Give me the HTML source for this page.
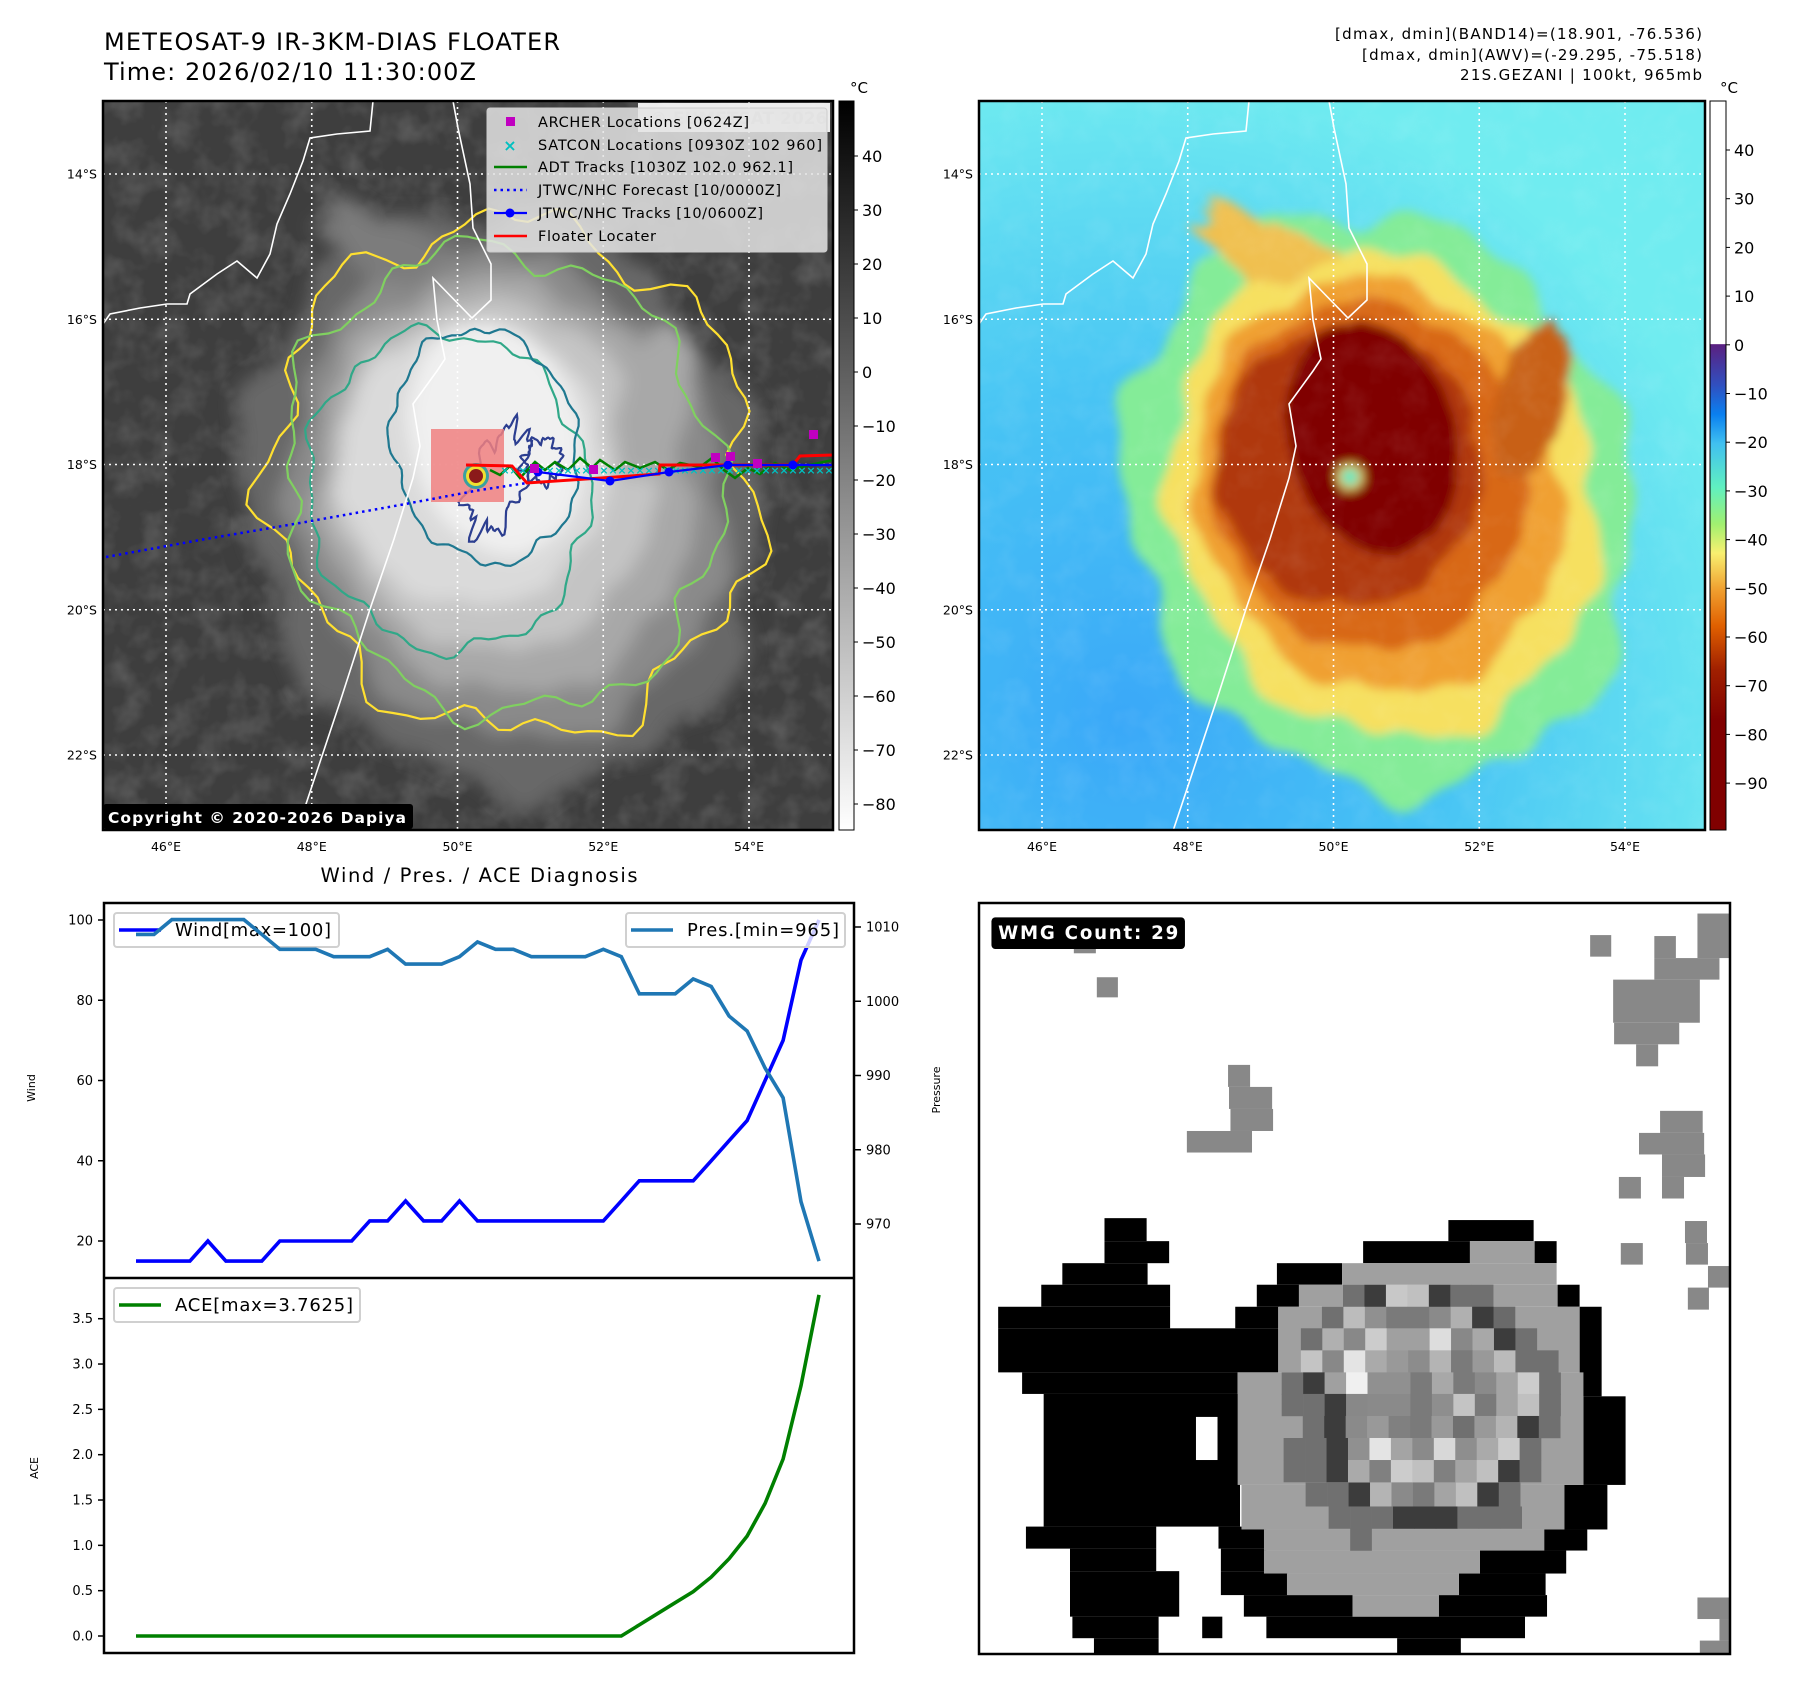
<!DOCTYPE html>
<html><head><meta charset="utf-8">
<style>
html,body{margin:0;padding:0;background:#fff;}
svg{display:block;font-family:"DejaVu Sans","Liberation Sans",sans-serif;}
</style></head>
<body>
<svg id="fig" xmlns="http://www.w3.org/2000/svg" width="1797" height="1690" viewBox="0 0 1797 1690">
<defs>
  <filter id="blur" x="-20%" y="-20%" width="140%" height="140%"><feGaussianBlur stdDeviation="9"/></filter>
  <filter id="blur2" x="-20%" y="-20%" width="140%" height="140%"><feGaussianBlur stdDeviation="5"/></filter>
  <filter id="noise" x="0" y="0" width="100%" height="100%">
    <feTurbulence type="fractalNoise" baseFrequency="0.035" numOctaves="3" seed="4"/>
    <feColorMatrix type="matrix" values="0 0 0 0 1  0 0 0 0 1  0 0 0 0 1  1.2 0 0 0 -0.5"/>
  </filter>
  <clipPath id="clipL"><rect x="103" y="101" width="730" height="729"/></clipPath>
  <clipPath id="clipR"><rect x="979" y="101" width="726" height="729"/></clipPath>
  <linearGradient id="cbL" x1="0" y1="0" x2="0" y2="1">
    <stop offset="0" stop-color="#000"/><stop offset="1" stop-color="#fff"/>
  </linearGradient>
  <linearGradient id="cbR" x1="0" y1="0" x2="0" y2="1">
    <stop offset="0" stop-color="#ffffff"/><stop offset="0.333" stop-color="#ffffff"/>
    <stop offset="0.334" stop-color="#5a2080"/><stop offset="0.39" stop-color="#3050c0"/>
    <stop offset="0.43" stop-color="#0a80f0"/><stop offset="0.47" stop-color="#40c0f0"/>
    <stop offset="0.53" stop-color="#60f0c0"/><stop offset="0.58" stop-color="#a0f070"/>
    <stop offset="0.62" stop-color="#f8f070"/><stop offset="0.67" stop-color="#f0a030"/>
    <stop offset="0.72" stop-color="#e06000"/><stop offset="0.78" stop-color="#a02000"/>
    <stop offset="0.85" stop-color="#800000"/><stop offset="1" stop-color="#800000"/>
  </linearGradient>
  <radialGradient id="bgR" cx="0.2" cy="0.85" r="0.9">
    <stop offset="0" stop-color="#3aa8f8"/><stop offset="0.5" stop-color="#48c4f4"/><stop offset="1" stop-color="#70ecf0"/>
  </radialGradient>
</defs>

<!-- Titles -->
<text x="104" y="50" font-size="24" textLength="456">METEOSAT-9 IR-3KM-DIAS FLOATER</text>
<text x="104" y="80" font-size="24" textLength="372">Time: 2026/02/10 11:30:00Z</text>
<g font-size="15" text-anchor="end">
  <text x="1702" y="39" textLength="367">[dmax, dmin](BAND14)=(18.901, -76.536)</text>
  <text x="1702" y="60" textLength="340">[dmax, dmin](AWV)=(-29.295, -75.518)</text>
  <text x="1702" y="80" textLength="242">21S.GEZANI | 100kt, 965mb</text>
</g>

<!-- LEFT MAP -->
<g id="mapL" clip-path="url(#clipL)">
  <rect x="103" y="101" width="730" height="729" fill="#3e3e3e"/>
  <rect x="103" y="101" width="730" height="729" filter="url(#noise)" opacity="0.25"/>
  <g id="cloudL" filter="url(#blur)"></g>
  <g id="contoursL" fill="none" stroke-width="2.2"></g>
</g>
<!-- RIGHT MAP -->
<g id="mapR" clip-path="url(#clipR)">
  <rect x="979" y="101" width="726" height="729" fill="url(#bgR)"/>
  <g id="cloudR" filter="url(#blur2)"></g>
  <rect x="979" y="101" width="726" height="729" filter="url(#noise)" opacity="0.12"/>
</g>
<g id="coastL" fill="none" stroke="#fff" stroke-width="1.6"></g>
<g id="gridL" stroke="#fff" stroke-width="1.6" stroke-dasharray="2,4"></g>

<!-- tracks on left map -->
<g clip-path="url(#clipL)">
  <rect x="431" y="429" width="73" height="73" fill="#f08080" opacity="0.85"/>
  <circle cx="476" cy="476" r="13" fill="#3aa0a0"/><circle cx="476" cy="476" r="10" fill="#f0e030"/><circle cx="476" cy="476" r="7" fill="#8b1a1a"/>
  <polyline points="106,557 200,540 300,523 400,505 480,490 527,483" fill="none" stroke="#0000ff" stroke-width="2.5" stroke-dasharray="2.5,4"/>
  <polyline points="800,465 833,465" fill="none" stroke="#0000ff" stroke-width="2.5" stroke-dasharray="2.5,4"/>
  <polyline points="490,470 500,475 510,466 520,478 535,462 545,470 555,462 568,470 580,458 592,468 600,460 615,470 625,462 640,468 655,462 668,470 680,463 700,467 712,458 724,470 735,478 748,468 760,474 775,463 790,470 805,466 833,460" fill="none" stroke="#008000" stroke-width="2.5"/>
  <g id="satcon" fill="#00c0c0" font-size="11" font-weight="bold" text-anchor="middle"></g>
  <polyline points="466,465 512,466 527,483 659,474 660,465 793,465 800,456 833,455" fill="none" stroke="#ff0000" stroke-width="3"/>
  <polyline points="538,472 610,481 669,472 728,465 793,465 833,465" fill="none" stroke="#0000ff" stroke-width="2.2"/>
  <g fill="#0000ff"><circle cx="538" cy="472" r="4.5"/><circle cx="610" cy="481" r="4.5"/><circle cx="669" cy="472" r="4.5"/><circle cx="728" cy="465" r="4.5"/><circle cx="793" cy="465" r="4.5"/></g>
  <g fill="#c000c0">
    <rect x="530" y="464" width="9" height="9"/><rect x="589" y="465" width="9" height="9"/><rect x="711" y="453" width="9" height="9"/><rect x="726" y="452" width="9" height="9"/><rect x="753" y="459" width="9" height="9"/><rect x="809" y="430" width="9" height="9"/>
  </g>
  <rect x="638" y="103" width="192" height="29" fill="#fff" opacity="0.9"/>
  <text x="650" y="124" font-size="17" font-weight="bold" fill="#d8d8d8">© EUMETSAT 2026</text>
</g>
<rect x="103" y="101" width="730" height="729" fill="none" stroke="#000" stroke-width="2.5"/>
<rect x="979" y="101" width="726" height="729" fill="none" stroke="#000" stroke-width="2.5"/>

<!-- map legend -->
<g>
  <rect x="487" y="108" width="340" height="144" rx="3" fill="#e4e4e4" fill-opacity="0.85" stroke="#ccc"/>
  <g font-size="14.5">
    <rect x="506" y="117" width="9" height="9" fill="#c000c0"/>
    <text x="538" y="127" textLength="211">ARCHER Locations [0624Z]</text>
    <text x="510" y="151" fill="#00c0c0" font-weight="bold" font-size="16" text-anchor="middle">×</text>
    <text x="538" y="150" textLength="284">SATCON Locations [0930Z 102 960]</text>
    <line x1="494" y1="167" x2="527" y2="167" stroke="#008000" stroke-width="2.5"/>
    <text x="538" y="172" textLength="255">ADT Tracks [1030Z 102.0 962.1]</text>
    <line x1="494" y1="190" x2="527" y2="190" stroke="#0000ff" stroke-width="2.5" stroke-dasharray="2.5,4"/>
    <text x="538" y="195" textLength="243">JTWC/NHC Forecast [10/0000Z]</text>
    <line x1="494" y1="213" x2="527" y2="213" stroke="#0000ff" stroke-width="2.2"/><circle cx="510" cy="213" r="4.5" fill="#0000ff"/>
    <text x="538" y="218" textLength="225">JTWC/NHC Tracks [10/0600Z]</text>
    <line x1="494" y1="236" x2="527" y2="236" stroke="#ff0000" stroke-width="2.5"/>
    <text x="538" y="241" textLength="118">Floater Locater</text>
  </g>
</g>
<g>
  <rect x="103" y="804" width="310" height="25" rx="3" fill="#000"/>
  <text x="108" y="823" font-size="15.5" font-weight="bold" fill="#fff" textLength="298">Copyright © 2020-2026 Dapiya</text>
</g>
<g id="mapLabels" font-size="12.5"></g>

<!-- colorbars -->
<rect x="839" y="101" width="15" height="729" fill="url(#cbL)" stroke="#000" stroke-width="1"/>
<rect x="1710" y="101" width="16" height="729" fill="url(#cbR)" stroke="#000" stroke-width="1"/>
<text x="850" y="93" font-size="15">°C</text>
<text x="1720" y="93" font-size="15">°C</text>
<g id="cbLabels" font-size="16"></g>

<!-- DIAGNOSIS CHART -->
<text x="479" y="882" font-size="19.5" text-anchor="middle" textLength="317">Wind / Pres. / ACE Diagnosis</text>
<g id="chart"></g>

<!-- WMG panel -->
<g id="wmg"></g>
</svg>
<script>
// ---------- chart data ----------
const obsIndex = [0,1,2,3,4,5,6,7,8,9,10,11,12,13,14,15,16,17,18,19,20,21,22,23,24,25,26,27,28,29,30,31,32,33,34,35,36,37,38];
const windKt = [15,15,15,15,20,15,15,15,20,20,20,20,20,25,25,30,25,25,30,25,25,25,25,25,25,25,25,30,35,35,35,35,40,45,50,60,70,90,100];
const presMb = [1009,1009,1011,1011,1011,1011,1011,1009,1007,1007,1007,1006,1006,1006,1007,1005,1005,1005,1006,1008,1007,1007,1006,1006,1006,1006,1007,1006,1001,1001,1001,1003,1002,998,996,991,987,973,965];
const aceVal = [0,0,0,0,0,0,0,0,0,0,0,0,0,0,0,0,0,0,0,0,0,0,0,0,0,0,0,0,0.1225,0.245,0.3675,0.49,0.65,0.8525,1.1025,1.4625,1.9525,2.7625,3.7625];
const windTicks = [20,40,60,80,100];
const presTicks = [970,980,990,1000,1010];
const aceTicks = [0,0.5,1,1.5,2,2.5,3,3.5];
const aceTickLabels = ["0.0","0.5","1.0","1.5","2.0","2.5","3.0","3.5"];

const NS='http://www.w3.org/2000/svg';
function mk(tag, attrs, parent){const e=document.createElementNS(NS,tag);for(const k in attrs)e.setAttribute(k,attrs[k]);if(parent)parent.appendChild(e);return e;}

const X0=104,X1=854,TOP=903,MID=1278,BOT=1653;
const xPos = i => 136 + (i - obsIndex[0]) * (819-136)/(obsIndex[obsIndex.length-1]-obsIndex[0]);
const yWind = w => 920 + (100 - w) * (1241-920)/80;
const yPres = p => 927 + (1010 - p) * (1224-927)/40;
const yAce = a => 1636 - a * (1636-1318.7)/3.5;

const chart=document.getElementById('chart');
function line(x1,y1,x2,y2,p,extra){return mk('line',Object.assign({x1,y1,x2,y2,stroke:'#000','stroke-width':1.5},extra||{}),p);}
windTicks.forEach(v=>{const y=yWind(v);line(X0-6,y,X0,y,chart);const t=mk('text',{x:X0-11,y:y+4.5,'font-size':13,'text-anchor':'end'},chart);t.textContent=v;

});
presTicks.forEach(v=>{const y=yPres(v);line(X1,y,X1+7,y,chart);const t=mk('text',{x:X1+12,y:y+4.5,'font-size':13},chart);t.textContent=v;

});
aceTicks.forEach((v,i)=>{const y=yAce(v);line(X0-6,y,X0,y,chart);const t=mk('text',{x:X0-11,y:y+4.5,'font-size':13,'text-anchor':'end'},chart);t.textContent=aceTickLabels[i];

});
let t;
t=mk('text',{x:0,y:0,'font-size':11,'text-anchor':'middle',transform:'translate(35,1088) rotate(-90)'},chart);t.textContent='Wind';


t=mk('text',{x:0,y:0,'font-size':11,'text-anchor':'middle',transform:'translate(940,1090) rotate(-90)'},chart);t.textContent='Pressure';


t=mk('text',{x:0,y:0,'font-size':11,'text-anchor':'middle',transform:'translate(38,1468) rotate(-90)'},chart);t.textContent='ACE';



function series(vals,yf,color,name){const pts=vals.map((v,i)=>xPos(obsIndex[i]).toFixed(1)+','+yf(v).toFixed(1)).join(' ');
const pl=mk('polyline',{points:pts,fill:'none',stroke:color,'stroke-width':3.6,'stroke-linejoin':'miter'},chart);

}
function legend(x,y,w,color,label,name,tl){const g=mk('g',{},chart);


mk('rect',{x,y,width:w,height:34,rx:3,fill:'#fff','fill-opacity':0.8,stroke:'#d0d0d0','stroke-width':2},g);
mk('line',{x1:x+5,y1:y+17,x2:x+47,y2:y+17,stroke:color,'stroke-width':3.6},g);
const tt=mk('text',{x:x+61,y:y+23,'font-size':18,textLength:tl},g);tt.textContent=label;}
series(windKt,yWind,'#0000ff','wind-line');
legend(114,913,225,'#0000ff','Wind[max=100]','wind-legend',156);
series(presMb,yPres,'#1f77b4','pressure-line');
legend(626,913,219,'#1f77b4','Pres.[min=965]','pressure-legend',152);
series(aceVal,yAce,'#008000','ace-line');
legend(114,1288,246,'#008000','ACE[max=3.7625]','ace-legend',178);
mk('rect',{x:X0,y:TOP,width:X1-X0,height:BOT-TOP,fill:'none',stroke:'#000','stroke-width':2.5},chart);
line(X0,MID,X1,MID,chart,{'stroke-width':2.5});

// ---------- map decorations ----------
function blob(cx,cy,rx,ry,rot,amp,seed){let d='';const n=120;const r=rot*Math.PI/180;
for(let k=0;k<=n;k++){const a=k/n*2*Math.PI;const f=1+amp*(Math.sin(7*a+seed)*0.5+Math.sin(13*a+seed*2.3)*0.3+Math.sin(23*a+seed*1.7)*0.2);
const px=rx*f*Math.cos(a),py=ry*f*Math.sin(a);const X=cx+px*Math.cos(r)-py*Math.sin(r),Y=cy+px*Math.sin(r)+py*Math.cos(r);
d+=(k?'L':'M')+X.toFixed(1)+','+Y.toFixed(1);}return d+'Z';}
const layers=[
 {c:[400,400],r:[255,295],rot:-20,a:0.08,g:'#686868',col:'#84ec98'},
 {c:[360,205],r:[170,40],rot:35,a:0.15,g:'#7c7c7c',col:'#f0c050'},
 {c:[405,395],r:[215,245],rot:-20,a:0.07,g:'#8a8a8a',col:'#f6e060'},
 {c:[400,385],r:[185,210],rot:-18,a:0.06,g:'#a8a8a8',col:'#f0a030'},
 {c:[390,375],r:[160,175],rot:-10,a:0.05,g:'#c4c4c4',col:'#d86818'},
 {c:[370,365],r:[135,140],rot:0,a:0.05,g:'#dadada',col:'#b03808'},
 {c:[552,300],r:[35,80],rot:15,a:0.08,g:'#a8a8a8',col:'#c86018'},
 {c:[393,337],r:[85,118],rot:-15,a:0.02,g:'#f0f0f0',col:'#800000'}
];
const cl=document.getElementById('cloudL'),cr=document.getElementById('cloudR');
layers.forEach((L,i)=>{
 mk('path',{d:blob(103+L.c[0],101+L.c[1],L.r[0],L.r[1],L.rot,L.a,i+1),fill:L.g},cl);
 mk('path',{d:blob(979+L.c[0],101+L.c[1],L.r[0]*0.98,L.r[1],L.rot,L.a,i+1),fill:L.col},cr);
});
mk('circle',{cx:979+371,cy:101+376,r:14,fill:'#f0c040'},cr);
mk('circle',{cx:979+371,cy:101+376,r:9,fill:'#60e8c0'},cr);
const cont=document.getElementById('contoursL');
[[410,376,240,258,-22,0.12,'#ffe030',3],[400,380,215,235,-22,0.10,'#80d060',5],[345,390,140,160,-10,0.08,'#30a888',7],[382,345,92,118,-12,0.07,'#1f7890',9],[395,380,25,55,20,0.35,'#2c3e90',2],[440,360,18,22,0,0.3,'#2c3e90',4]]
.forEach(c=>mk('path',{d:blob(103+c[0],101+c[1],c[2],c[3],c[4],c[5],c[7]),stroke:c[6]},cont));
// coastline
const coast=document.getElementById('coastL');
const coastPts=[[453,101],[458,128],[470,184],[473,228],[491,264],[491,300],[472,318],[433,278],[437,320],[445,359],[437,371],[413,404],[420,446],[413,478],[394,539],[370,609],[340,702],[297,831]];
const nwPts=[[373,101],[370,131],[337,134],[310,138],[303,161],[290,194],[277,224],[270,254],[257,278],[237,261],[217,274],[190,294],[187,304],[167,304],[140,308],[110,314],[103,324]];
[[0,101],[876,101]].forEach((o,k)=>{const dx=o[0];
 const clip=k?'url(#clipR)':'url(#clipL)';
 mk('polyline',{points:coastPts.map(p=>(p[0]+dx)+','+p[1]).join(' '),'clip-path':clip},coast);
 mk('polyline',{points:nwPts.map(p=>(p[0]+dx)+','+p[1]).join(' '),'clip-path':clip},coast);
});
// grid + labels
const lonTicks=[46,48,50,52,54], latTicks=[14,16,18,20,22];
const lonX=l=>166+(l-46)*(749-166)/8, latY=l=>174+(l-14)*(755-174)/8;
const grid=document.getElementById('gridL'),ml=document.getElementById('mapLabels');
[0,876].forEach(dx=>{
 const w = dx? 726:730;
 lonTicks.forEach(l=>{mk('line',{x1:lonX(l)+dx,y1:101,x2:lonX(l)+dx,y2:830},grid);
  const tx=mk('text',{x:lonX(l)+dx,y:851,'text-anchor':'middle'},ml);tx.textContent=l+'°E';
  
  });
 latTicks.forEach(l=>{mk('line',{x1:103+dx,y1:latY(l),x2:103+dx+w,y2:latY(l)},grid);
  const tx=mk('text',{x:97+dx,y:latY(l)+4.5,'text-anchor':'end'},ml);tx.textContent=l+'°S';
  
  });
});
const sc=document.getElementById('satcon');
for(let x=505;x<833;x+=9){const tt=mk('text',{x:x,y:470+((x*7)%9)-3},sc);tt.textContent='×';}
const cbg=document.getElementById('cbLabels');
[40,30,20,10,0,-10,-20,-30,-40,-50,-60,-70,-80].forEach(v=>{const y=156+(40-v)*5.4;line(854,y,858,y,cbg,{'stroke-width':1});
 const tx=mk('text',{x:862,y:y+6},cbg);tx.textContent=(v<0?'\u2212':'')+Math.abs(v);
 
 });
[40,30,20,10,0,-10,-20,-30,-40,-50,-60,-70,-80,-90].forEach(v=>{const y=150+(40-v)*4.87;line(1726,y,1730,y,cbg,{'stroke-width':1});
 const tx=mk('text',{x:1734,y:y+6},cbg);tx.textContent=(v<0?'\u2212':'')+Math.abs(v);
 
 });

// ---------- WMG panel ----------
const wmg=document.getElementById('wmg');
const wg=mk('g',{transform:'translate(979,903) scale('+(751/1568)+')'},wmg);
mk('rect',{x:0,y:0,width:1568,height:1568,fill:'#fff'},wg);
const grayBlocks=[[198,82,244,105],[246,155,290,197],[520,338,566,384],[522,384,612,430],[525,430,614,476],[434,476,570,521],[1276,67,1320,112],[1410,69,1455,115],[1500,22,1568,115],[1410,115,1546,160],[1324,160,1505,250],[1326,250,1462,295],[1372,295,1418,341],[1422,434,1511,480],[1378,480,1514,525],[1426,525,1516,572],[1336,572,1382,617],[1426,572,1472,617],[1474,664,1520,710],[1476,710,1522,755],[1340,710,1386,755],[1522,758,1568,803],[1480,803,1524,849],[1500,1450,1568,1495],[1546,1495,1568,1540],[1505,1540,1568,1568]];
grayBlocks.forEach(b=>mk('rect',{x:b[0],y:b[1],width:b[2]-b[0],height:b[3]-b[1],fill:'#888'},wg));
const blackBlocks=[[262,658,350,706],[262,706,397,752],[174,752,352,797],[130,797,399,843],[40,843,399,888],[40,888,625,980],[90,980,540,1025],[135,1025,545,1302],[98,1302,370,1348],[500,1302,600,1348],[190,1348,370,1395],[505,1348,600,1395],[190,1395,418,1490],[505,1395,645,1445],[553,1445,780,1490],[195,1490,375,1535],[466,1490,508,1535],[600,1490,1140,1535],[240,1535,375,1568],[873,1535,1006,1568],[535,843,625,888],[580,797,668,843],[622,752,758,797],[802,706,1025,752],[980,662,1158,706],[1160,706,1206,752],[1208,797,1254,843],[1254,843,1300,1030],[1262,1030,1350,1215],[1222,1215,1312,1308],[1180,1308,1270,1352],[1046,1352,1226,1400],[1002,1400,1183,1445],[960,1445,1186,1490]];
blackBlocks.forEach(b=>mk('rect',{x:b[0],y:b[1],width:b[2]-b[0],height:b[3]-b[1],fill:'#000'},wg));
mk('rect',{x:453,y:1073,width:45,height:90,fill:'#fff'},wg);
const ringBlocks=[[758,752,1206,797],[1025,706,1160,752],[668,797,1208,843],[626,843,1254,980],[540,980,1262,1215],[548,1215,1222,1308],[595,1308,1180,1352],[595,1352,1046,1400],[643,1400,1002,1445],[780,1445,960,1490]];
ringBlocks.forEach(b=>mk('rect',{x:b[0],y:b[1],width:b[2]-b[0],height:b[3]-b[1],fill:'#a0a0a0'},wg));
const cellRows=[
 [797,760,['#707070','#3c3c3c','#c8c8c8','#c0c0c0','#3c3c3c','#707070','#707070']],
 [843,716,['#707070','#bcbcbc','#909090','#7a7a7a','#7a7a7a','#8a8a8a','#b0b0b0','#3c3c3c','#6a6a6a']],
 [888,672,['#707070','#b0b0b0','#888888','#cccccc','#a0a0a0','#a0a0a0','#dddddd','#888888','#a8a8a8','#3c3c3c','#707070']],
 [934,672,['#c4c4c4','#888888','#e4e4e4','#aaaaaa','#999999','#8c8c8c','#b4b4b4','#7a7a7a','#999999','#bbbbbb','#707070','#707070']],
 [980,632,['#707070','#3c3c3c','#a0a0a0','#f0f0f0','#909090','#909090','#7a7a7a','#a8a8a8','#7a7a7a','#8a8a8a','#a4a4a4','#cccccc','#707070']],
 [1025,632,['#707070','#707070','#3c3c3c','#888888','#8a8a8a','#8a8a8a','#7a7a7a','#8e8e8e','#c4c4c4','#7a7a7a','#a4a4a4','#c0c0c0','#707070']],
 [1071,676,['#707070','#3c3c3c','#8a8a8a','#999999','#808080','#7a7a7a','#999999','#707070','#999999','#b4b4b4','#3c3c3c','#707070']],
 [1117,636,['#707070','#707070','#3c3c3c','#909090','#e4e4e4','#a4a4a4','#8a8a8a','#d8d8d8','#8e8e8e','#aaaaaa','#cccccc','#707070']],
 [1163,636,['#707070','#707070','#3c3c3c','#aaaaaa','#808080','#cccccc','#c0c0c0','#808080','#a4a4a4','#c0c0c0','#3c3c3c','#707070']],
 [1210,682,['#707070','#707070','#3c3c3c','#b4b4b4','#8a8a8a','#7a7a7a','#a4a4a4','#c0c0c0','#3c3c3c','#707070']],
 [1260,730,['#707070','#707070','#707070','#3c3c3c','#3c3c3c','#3c3c3c','#707070','#707070','#707070']],
 [1306,775,['#707070']]
];
cellRows.forEach(r=>r[2].forEach((c,i)=>mk('rect',{x:r[1]+i*44.8,y:r[0],width:45.3,height:(r[0]===1210?50:46.5),fill:c},wg)));
mk('rect',{x:26,y:30,width:404,height:66,rx:8,fill:'#000'},wg);
const wl=mk('text',{x:40,y:75,'font-size':38,'font-weight':'bold',fill:'#fff',textLength:376},wg);wl.textContent='WMG Count: 29';


mk('rect',{x:979,y:903,width:751,height:751,fill:'none',stroke:'#000','stroke-width':2.5},wmg);
</script>
</body></html>
